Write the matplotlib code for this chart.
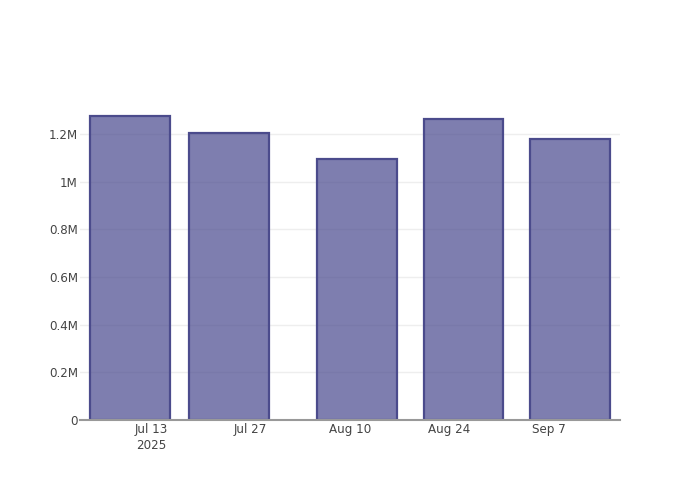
import matplotlib
matplotlib.use("Agg")
import matplotlib.pyplot as plt
import matplotlib.dates as mdates
import numpy as np
import datetime as dt

# bar dates and values
dates = [dt.date(2025, 7, 10), dt.date(2025, 7, 24), dt.date(2025, 8, 11),
         dt.date(2025, 8, 26), dt.date(2025, 9, 10)]
values = [1276000, 1204000, 1095000, 1263000, 1179000]

y_ticks = [0, 200000, 400000, 600000, 800000, 1000000, 1200000]
y_labels = ["0", "0.2M", "0.4M", "0.6M", "0.8M", "1M", "1.2M"]
x_ticks = [dt.date(2025, 7, 13), dt.date(2025, 7, 27), dt.date(2025, 8, 10),
           dt.date(2025, 8, 24), dt.date(2025, 9, 7)]
x_labels = ["Jul 13\n2025", "Jul 27", "Aug 10", "Aug 24", "Sep 7"]

fig = plt.figure(figsize=(7, 5), dpi=100)
ax = fig.add_axes([80 / 700, 80 / 500, 540 / 700, 320 / 500])

x = mdates.date2num(dates)
ax.bar(x, values, width=14 * 0.8, color=(0.282, 0.282, 0.553, 0.7),
       edgecolor="#4b4b8c", linewidth=1.6, zorder=3)

ax.set_xlim(mdates.date2num(dt.date(2025, 7, 3)), mdates.date2num(dt.date(2025, 9, 17)))
ax.set_ylim(0, 1343000)

ax.set_yticks(y_ticks)
ax.set_yticklabels(y_labels)
ax.set_xticks(mdates.date2num(x_ticks))
ax.set_xticklabels(x_labels, linespacing=1.3)

txt = "#444444"
ax.tick_params(axis="y", length=0, pad=1.5, labelsize=8.6, labelcolor=txt)
ax.tick_params(axis="x", length=0, pad=2, labelsize=8.6, labelcolor=txt)
ax.grid(axis="y", color="#eeeeee", linewidth=1, zorder=0)
ax.set_axisbelow(True)

for s in ["top", "right", "left"]:
    ax.spines[s].set_visible(False)
ax.spines["bottom"].set_color("#999999")
ax.spines["bottom"].set_linewidth(1.5)
ax.spines["bottom"].set_zorder(4)

fig.savefig("out.png", dpi=100)
